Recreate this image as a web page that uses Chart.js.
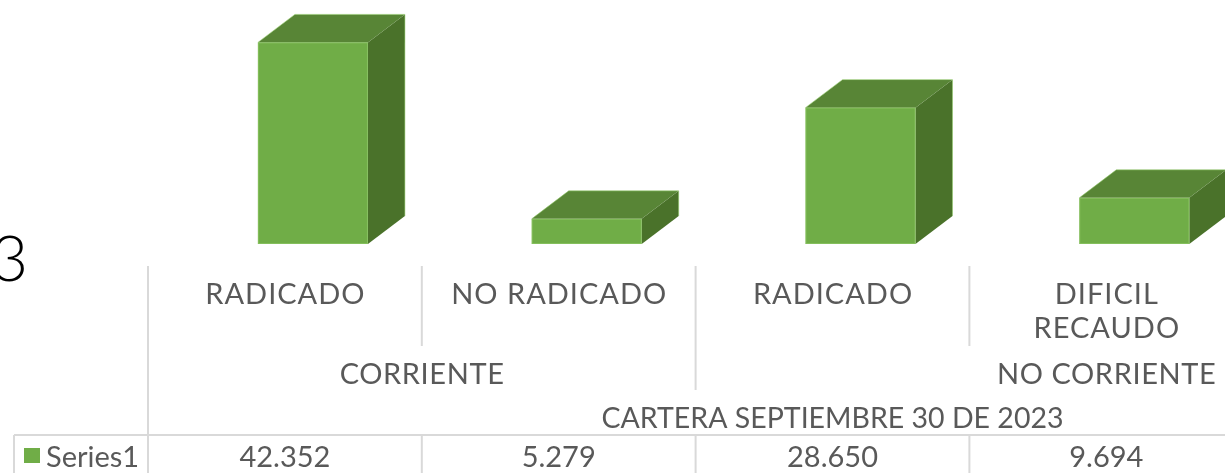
<!DOCTYPE html>
<html>
<head>
<meta charset="utf-8">
<script src="https://cdn.jsdelivr.net/npm/chart.js@4/dist/chart.umd.min.js"></script>
<style>
html,body{margin:0;padding:0;background:#ffffff;overflow:hidden;width:1225px;height:473px;}
#wrap{position:relative;width:1540px;height:473px;}
</style>
</head>
<body>
<div id="wrap"><canvas id="c"></canvas></div>
<script>
// ---- data ----
const categories = [['RADICADO'], ['NO RADICADO'], ['RADICADO'], ['DIFICIL', 'RECAUDO'], ['']];
const groups = ['CORRIENTE', 'NO CORRIENTE'];
const groupSpans = [2, 3];
const topGroup = 'CARTERA SEPTIEMBRE 30 DE 2023';
const seriesName = 'Series1';
const values = [42352, 5279, 28650, 9694, null];
const yMin = 0;
const yMax = 50000;
const strayText = '3';

// ---- style ----
const FONT = '"Lato", "Liberation Sans", sans-serif';
const TXT = '#595959';
const GRID = '#D9D9D9';
const FRONT = '#70AD47';
const TOP = '#588536';
const SIDE = '#4A722A';
const DX = 37, DY = 28, SHIFT = 28;

const fmt = v => v == null ? '' : new Intl.NumberFormat('de-DE').format(v);

function poly(ctx, pts) {
  ctx.beginPath();
  ctx.moveTo(pts[0][0], pts[0][1]);
  for (let k = 1; k < pts.length; k++) ctx.lineTo(pts[k][0], pts[k][1]);
  ctx.closePath();
  ctx.fill();
}

const excel3d = {
  id: 'excel3d',
  afterDatasetsDraw(chart) {
    const ctx = chart.ctx;
    const meta = chart.getDatasetMeta(0);
    ctx.save();
    meta.data.forEach((bar, i) => {
      if (values[i] == null) return;
      const p = bar.getProps(['x', 'y', 'base', 'width'], true);
      const l = p.x - p.width / 2 + SHIFT, r = p.x + p.width / 2 + SHIFT;
      const t = p.y, b = p.base;
      ctx.fillStyle = SIDE;
      poly(ctx, [[r, b], [r, t], [r + DX, t - DY], [r + DX, b - DY]]);
      ctx.fillStyle = TOP;
      poly(ctx, [[l, t], [r, t], [r + DX, t - DY], [l + DX, t - DY]]);
      ctx.fillStyle = FRONT;
      ctx.fillRect(l, t, r - l, b - t);
      ctx.strokeStyle = 'rgba(150,205,110,0.55)';
      ctx.lineWidth = 1;
      ctx.strokeRect(l + 0.5, t + 0.5, r - l - 1, b - t - 1);
      ctx.beginPath();
      ctx.moveTo(l, t); ctx.lineTo(l + DX, t - DY); ctx.lineTo(r + DX, t - DY); ctx.lineTo(r + DX, b - DY);
      ctx.stroke();
    });
    ctx.restore();
  },
  afterDraw(chart) {
    const ctx = chart.ctx;
    const xs = chart.scales.x;
    const B = chart.chartArea.bottom;
    const n = categories.length;
    const centers = categories.map((_, i) => xs.getPixelForValue(i));
    const bounds = [xs.left];
    for (let i = 1; i < n; i++) bounds.push((centers[i - 1] + centers[i]) / 2);
    bounds.push(xs.right);

    const sepTop = B + 22, catSepBot = B + 102, grpSepBot = B + 146;
    const tableTop = B + 191, bottom = chart.height;

    ctx.save();
    ctx.strokeStyle = GRID;
    ctx.lineWidth = 2;
    const vline = (x, y0, y1) => { ctx.beginPath(); ctx.moveTo(x, y0); ctx.lineTo(x, y1); ctx.stroke(); };

    const grpBounds = [0];
    groupSpans.forEach(s => grpBounds.push(grpBounds[grpBounds.length - 1] + s));

    for (let i = 0; i <= n; i++) {
      if (i === 0 || i === n) vline(bounds[i], sepTop, bottom);
      else if (grpBounds.includes(i)) vline(bounds[i], sepTop, grpSepBot);
      else vline(bounds[i], sepTop, catSepBot);
      vline(bounds[i], tableTop, bottom);
    }
    ctx.beginPath(); ctx.moveTo(14, tableTop); ctx.lineTo(xs.right, tableTop); ctx.stroke();
    vline(14, tableTop, bottom);

    ctx.fillStyle = TXT;
    ctx.font = '400 29px ' + FONT;
    ctx.textAlign = 'center';
    ctx.textBaseline = 'alphabetic';
    ctx.letterSpacing = '1px';
    categories.forEach((lines, i) => {
      lines.forEach((ln, k) => ctx.fillText(ln, centers[i] + 0.5, B + 60 + k * 34));
    });
    ctx.letterSpacing = '0.6px';
    groups.forEach((g, gi) => {
      const x = (bounds[grpBounds[gi]] + bounds[grpBounds[gi + 1]]) / 2;
      ctx.fillText(g, x + 0.3, B + 140);
    });
    ctx.letterSpacing = '0px';
    ctx.font = '400 28.5px ' + FONT;
    ctx.fillText(topGroup, (xs.left + xs.right) / 2, B + 184);
    ctx.font = '400 29px ' + FONT;
    values.forEach((v, i) => ctx.fillText(fmt(v), centers[i], B + 223));
    ctx.fillStyle = FRONT;
    ctx.fillRect(24, B + 204, 16, 15);
    ctx.fillStyle = TXT;
    ctx.textAlign = 'left';
    ctx.fillText(seriesName, 46, B + 223);
    ctx.fillStyle = '#000000';
    ctx.font = '300 64px ' + FONT;
    ctx.textAlign = 'right';
    ctx.fillText(strayText, 28, B + 37);
    ctx.restore();
  }
};

new Chart(document.getElementById('c'), {
  type: 'bar',
  data: {
    labels: categories,
    datasets: [{
      label: seriesName,
      data: values,
      backgroundColor: 'rgba(0,0,0,0)',
      borderWidth: 0,
      barPercentage: 0.4018,
      categoryPercentage: 1
    }]
  },
  options: {
    responsive: true,
    maintainAspectRatio: false,
    animation: false,
    layout: { padding: { left: 148, right: 23, top: 6, bottom: 229 } },
    plugins: { legend: { display: false }, tooltip: { enabled: false }, title: { display: false } },
    scales: {
      x: { display: false, offset: true, grid: { display: false } },
      y: { display: false, min: yMin, max: yMax }
    }
  },
  plugins: [excel3d]
});
</script>
</body>
</html>
